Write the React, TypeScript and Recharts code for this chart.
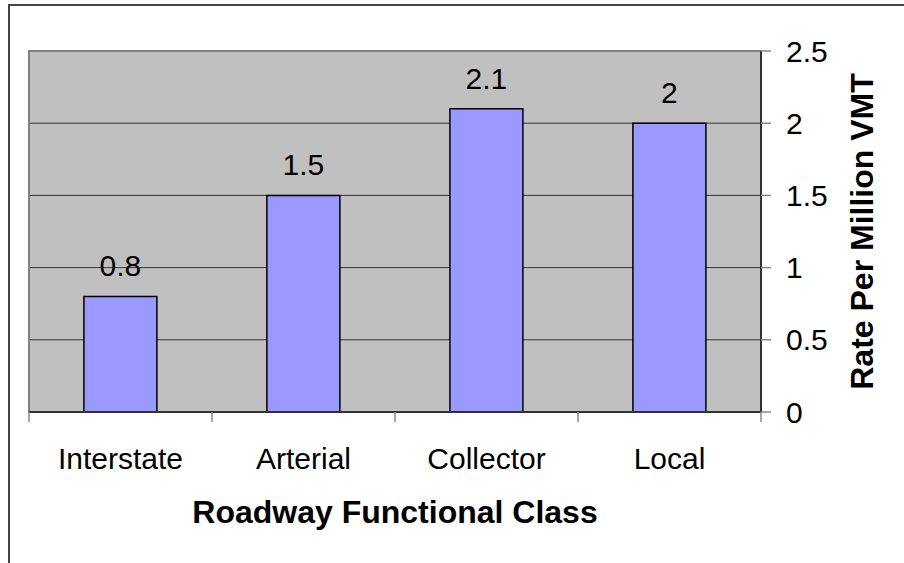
import { BarChart, Bar, XAxis, YAxis, CartesianGrid, LabelList, ReferenceArea } from 'recharts';

const categories = ['Interstate', 'Arterial', 'Collector', 'Local'];
const rates = [0.8, 1.5, 2.1, 2];
const yTicks = [0, 0.5, 1, 1.5, 2, 2.5];

const data = categories.map((name, i) => ({ name, rate: rates[i] }));

const FONT = '"Liberation Sans", Arial, sans-serif';

// category label in the middle of the band, tick marks on the band edges (Excel style)
const CategoryTick = (props: any) => {
    const { x, y, payload, index, visibleTicksCount, width } = props;
    const half = width && visibleTicksCount ? width / visibleTicksCount / 2 : payload.offset || 0;
    return (
        <g>
            <line x1={x - half} x2={x - half} y1={y} y2={y + 10} stroke="#888" strokeWidth={1.5} />
            {index === visibleTicksCount - 1 && (
                <line x1={x + half} x2={x + half} y1={y} y2={y + 10} stroke="#888" strokeWidth={1.5} />
            )}
            <text x={x} y={y + 57} textAnchor="middle" fontSize={30} fontFamily={FONT} fill="#000">
                {payload.value}
            </text>
        </g>
    );
};

export default function App() {
    return (
        <div style={{ position: 'absolute', left: 0, top: 0, width: 904, height: 563, overflow: 'hidden', background: '#fff' }}>
            <div
                style={{
                    position: 'absolute',
                    left: 8,
                    top: 4,
                    width: 1000,
                    height: 700,
                    borderLeft: '2px solid #444',
                    borderTop: '2px solid #444',
                }}
            />
            <div style={{ position: 'absolute', left: 0, top: 0 }}>
                <BarChart
                    width={1000}
                    height={563}
                    data={data}
                    margin={{ top: 51, left: 29, right: 37, bottom: 40 }}
                    barCategoryGap="30%"
                >
                    <CartesianGrid fill="#C0C0C0" vertical={false} stroke="#333" strokeWidth={1} />
                    <ReferenceArea y1={0} y2={2.5} fill="none" stroke="#808080" strokeWidth={2} />
                    <Bar dataKey="rate" fill="#9999FF" stroke="#000" strokeWidth={1.5} isAnimationActive={false}>
                        <LabelList
                            dataKey="rate"
                            position="top"
                            offset={20}
                            fontSize={30}
                            fontFamily={FONT}
                            fill="#000"
                        />
                    </Bar>
                    <XAxis
                        dataKey="name"
                        height={111}
                        tickLine={false}
                        tickSize={0}
                        tickMargin={0}
                        axisLine={{ stroke: '#333', strokeWidth: 2 }}
                        tick={<CategoryTick />}
                        interval={0}
                        label={{
                            value: 'Roadway Functional Class',
                            position: 'insideBottom',
                            offset: 0,
                            fontSize: 32,
                            fontWeight: 'bold',
                            fontFamily: FONT,
                            fill: '#000',
                        }}
                    />
                    <YAxis
                        orientation="right"
                        width={202}
                        domain={[0, 2.5]}
                        ticks={yTicks}
                        axisLine={{ stroke: '#333', strokeWidth: 2 }}
                        tickLine={{ stroke: '#888', strokeWidth: 1.5 }}
                        tickSize={10}
                        tickMargin={15}
                        tick={{ fontSize: 30, fontFamily: FONT, fill: '#000' }}
                        label={{
                            value: 'Rate Per Million VMT',
                            angle: -90,
                            position: 'center',
                            fontSize: 32,
                            fontWeight: 'bold',
                            fontFamily: FONT,
                            fill: '#000',
                        }}
                    />
                </BarChart>
            </div>
        </div>
    );
}
